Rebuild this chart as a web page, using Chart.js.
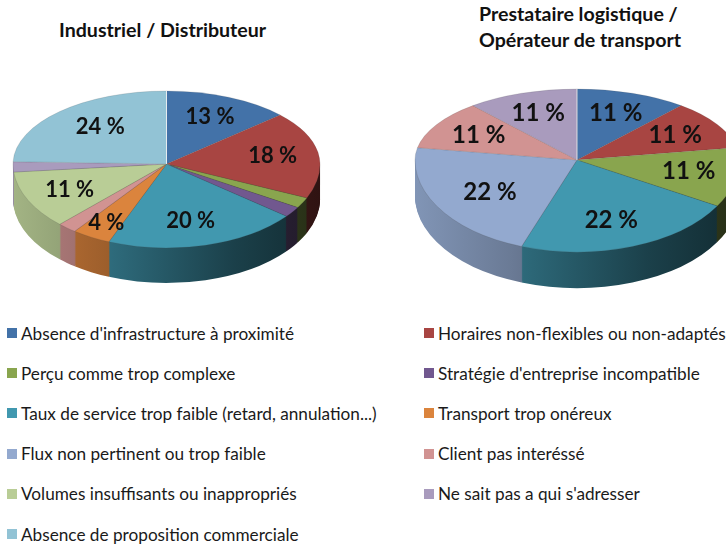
<!DOCTYPE html>
<html lang="fr">
<head>
<meta charset="utf-8">
<title>Freins</title>
<script src="https://cdn.jsdelivr.net/npm/chart.js@4"></script>
<style>
    html, body { margin: 0; padding: 0; background: #fff; }
    body { position: relative; width: 726px; height: 546px; overflow: hidden; font-family: Lato, sans-serif; color: #1a1a1a; }
    canvas { position: absolute; top: 0; filter: blur(0.4px); }
    #pieLeft { left: 0; }
    #pieRight { left: 380px; }
    .title { position: absolute; font-weight: 700; font-size: 19.6px; line-height: 26px; color: #111; white-space: nowrap; }
    #titleLeft { left: 59px; top: 17px; }
    #titleRight { left: 479px; top: 1px; }
    #legend { position: absolute; left: 7px; top: 313px; display: grid; grid-template-columns: 417px 300px; grid-auto-rows: 40.2px; font-size: 17.2px; }
    #legend span { display: flex; align-items: center; white-space: nowrap; }
    #legend i { width: 10px; height: 10px; margin-right: 4px; flex: none; }
</style>
</head>
<body>
<div class="title" id="titleLeft">Industriel / Distributeur</div>
<div class="title" id="titleRight">Prestataire logistique /<br>Opérateur de transport</div>
<canvas id="pieLeft" width="380" height="305"></canvas>
<canvas id="pieRight" width="346" height="305"></canvas>
<div id="legend"></div>
<script>
const categories = [
    "Absence d'infrastructure à proximité",
    "Horaires non-flexibles ou non-adaptés",
    "Perçu comme trop complexe",
    "Stratégie d'entreprise incompatible",
    "Taux de service trop faible (retard, annulation...)",
    "Transport trop onéreux",
    "Flux non pertinent ou trop faible",
    "Client pas interéssé",
    "Volumes insuffisants ou inappropriés",
    "Ne sait pas a qui s'adresser",
    "Absence de proposition commerciale"
];
const industrielValues = [13, 18, 2, 2, 20, 4, 0, 2, 11, 2, 24];
const prestataireValues = [11, 11, 11, 0, 22, 0, 22, 11, 0, 11, 0];
const colors = ["#4372a8", "#a84542", "#89a54e", "#71588f", "#4198af", "#db843d", "#93a9cf", "#d19392", "#b9cd96", "#a99bbd", "#92c3d5"];

// fake 3D: top and bottom half of the pie get their own vertical scale
const pie3d = {
    id: "pie3d",
    beforeDatasetsDraw(chart, args, opts) {
        const ctx = chart.ctx;
        const arcs = chart.getDatasetMeta(0).data;
        const { x: cx, y: cy, outerRadius: R } = arcs[0];

        const place = (upper, shift) => {
            const ry = upper ? opts.ryTop : opts.ryBottom;
            ctx.translate(opts.cx, opts.cy + shift);
            ctx.scale(opts.rx / R, ry / R);
            ctx.translate(-cx, -cy);
        };
        const clipHalf = (upper, shift) => {
            ctx.beginPath();
            if (upper) ctx.rect(0, 0, chart.width, opts.cy);
            else ctx.rect(0, opts.cy + shift, chart.width, chart.height);
            ctx.clip();
        };
        const shade = (hex, f) => {
            const n = parseInt(hex.slice(1), 16);
            return `rgb(${(n >> 16) * f},${((n >> 8) & 255) * f},${(n & 255) * f})`;
        };

        // side wall, from the floor up to the top face
        for (let d = opts.depth; d >= 1; d--) {
            ctx.save();
            clipHalf(false, d);
            place(false, d);
            arcs.forEach((arc, i) => {
                const grad = ctx.createLinearGradient(cx - R, 0, cx + R, 0);
                grad.addColorStop(0, shade(colors[i], 0.88));
                grad.addColorStop(0.3, shade(colors[i], 0.72));
                grad.addColorStop(0.72, shade(colors[i], 0.42));
                grad.addColorStop(1, shade(colors[i], 0.28));
                const keep = arc.options;
                arc.options = { ...keep, backgroundColor: grad, borderWidth: 0 };
                arc.draw(ctx);
                arc.options = keep;
            });
            ctx.restore();
        }

        // top face
        [true, false].forEach((upper) => {
            ctx.save();
            clipHalf(upper, 0);
            place(upper, 0);
            arcs.forEach((arc) => arc.draw(ctx));
            ctx.restore();
        });

        // light seam at 12 o'clock
        ctx.save();
        ctx.strokeStyle = "rgba(255,255,255,0.8)";
        ctx.beginPath();
        ctx.moveTo(opts.cx, opts.cy);
        ctx.lineTo(opts.cx, opts.cy - opts.ryTop);
        ctx.stroke();
        ctx.restore();

        // percent labels, the thin slices have none
        ctx.save();
        ctx.font = `700 ${opts.labelSize}px Lato, sans-serif`;
        ctx.fillStyle = "#111";
        ctx.textAlign = "center";
        ctx.textBaseline = "middle";
        arcs.forEach((arc, i) => {
            const value = chart.data.datasets[0].data[i];
            if (value < 3) return;
            const mid = (arc.startAngle + arc.endAngle) / 2;
            const fracY = value < 8 ? 0.8 : 0.7;
            const fracX = value >= 20 ? 0.62 : fracY;
            const s = Math.sin(mid);
            const x = opts.cx + opts.rx * fracX * Math.cos(mid);
            const y = opts.cy + (s < 0 ? opts.ryTop : opts.ryBottom) * fracY * s;
            ctx.fillText(`${value} %`, x, y);
        });
        ctx.restore();
        return false;
    }
};

const makePie = (id, values, view) => new Chart(document.getElementById(id), {
    type: "pie",
    data: {
        labels: categories,
        datasets: [{
            data: values,
            backgroundColor: colors,
            borderColor: "rgba(70,70,70,0.35)",
            borderWidth: 0.6
        }]
    },
    options: {
        responsive: false,
        animation: false,
        plugins: {
            legend: { display: false },
            tooltip: { enabled: false },
            pie3d: view
        }
    },
    plugins: [pie3d]
});

makePie("pieLeft", industrielValues, { cx: 166.5, cy: 164, rx: 153.5, ryTop: 73, ryBottom: 84, depth: 35, labelSize: 22 });
makePie("pieRight", prestataireValues, { cx: 197, cy: 160, rx: 162, ryTop: 71, ryBottom: 92, depth: 36, labelSize: 24 });

document.getElementById("legend").innerHTML = categories
    .map((label, i) => `<span><i style="background:${colors[i]}"></i>${label}</span>`)
    .join("");
</script>
</body>
</html>
